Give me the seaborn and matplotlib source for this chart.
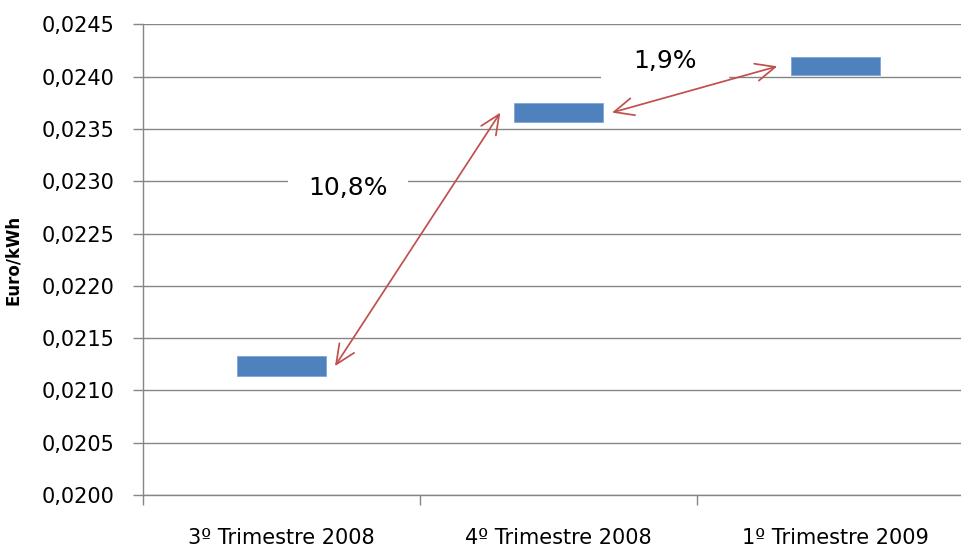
import matplotlib
matplotlib.use("Agg")
import matplotlib.pyplot as plt
from matplotlib.patches import Rectangle
from matplotlib.ticker import FuncFormatter, FixedLocator
import seaborn as sns
import numpy as np

# Quarterly price band (Euro/kWh): lower and upper edge of each floating bar
quarters = ["3º Trimestre 2008", "4º Trimestre 2008", "1º Trimestre 2009"]
price_low = [0.021133, 0.023564, 0.024012]
price_high = [0.021331, 0.023748, 0.024184]
changes = ["10,8%", "1,9%"]
y_ticks = [0.0200, 0.0205, 0.0210, 0.0215, 0.0220, 0.0225,
           0.0230, 0.0235, 0.0240, 0.0245]

sns.set_theme(style="white")
plt.rcParams["font.family"] = ["DejaVu Sans"]

GRID = "#868686"
BAR = "#4F81BD"
ARROW = "#C0504D"

fig = plt.figure(figsize=(9.62, 5.5), dpi=100)
ax = fig.add_axes([143 / 962, 1 - 495 / 550, 831 / 962, (495 - 24.3) / 550])

low = np.array(price_low)
high = np.array(price_high)
sns.barplot(x=quarters, y=high - low, bottom=low, width=0.32,
            color=BAR, saturation=1, edgecolor="#7FA6D6", linewidth=0.6,
            ax=ax, zorder=3)

ax.set_ylim(y_ticks[0], y_ticks[-1])
ax.set_xlim(-0.5, 2.5)
ax.yaxis.set_major_locator(FixedLocator(y_ticks))
ax.yaxis.set_major_formatter(FuncFormatter(lambda v, p: f"{v:.4f}".replace(".", ",")))
ax.grid(axis="y", color=GRID, lw=1.0, zorder=0)
ax.set_axisbelow(True)

for s in ["top", "right"]:
    ax.spines[s].set_visible(False)
for s in ["left", "bottom"]:
    ax.spines[s].set_color(GRID)
    ax.spines[s].set_linewidth(1.0)

ax.tick_params(axis="y", which="major", direction="out", length=7, width=1.0,
               color=GRID, pad=13.5, labelsize=15, labelcolor="black", left=True)
ax.tick_params(axis="x", which="major", length=0, pad=24, labelsize=15,
               labelcolor="black")
ax.set_xticks(range(len(quarters)))
ax.set_xticklabels(quarters)
ax.xaxis.set_minor_locator(FixedLocator([-0.5, 0.5, 1.5, 2.5]))
ax.tick_params(axis="x", which="minor", direction="out", length=7, width=1.0,
               color=GRID, bottom=True)

ax.set_xlabel("")
ax.set_ylabel("Euro/kWh", fontsize=12, fontweight="bold", labelpad=14,
              color="black")

# Double-headed arrows linking consecutive quarters
mid = (low + high) / 2
for i in range(len(quarters) - 1):
    ax.annotate("", xy=(i + 1 - 0.21, mid[i + 1]), xytext=(i + 0.193, mid[i]),
                arrowprops=dict(arrowstyle="<->,head_length=1.0,head_width=0.45",
                                color=ARROW, lw=1.25, shrinkA=0, shrinkB=0,
                                mutation_scale=14),
                zorder=4)

# White label boxes interrupting the gridlines
ax.add_patch(Rectangle((0.0235, 0.02288), 0.4335, 0.00024, facecolor="white",
                       edgecolor="none", zorder=2))
ax.add_patch(Rectangle((1.152, 0.02396), 0.464, 0.00038, facecolor="white",
                       edgecolor="none", zorder=2))
ax.text(0.239, 0.022931, changes[0], fontsize=18, ha="center", va="center",
        color="black", zorder=5)
ax.text(1.386, 0.024148, changes[1], fontsize=18, ha="center", va="center",
        color="black", zorder=5)

fig.savefig("out.png", dpi=100)
